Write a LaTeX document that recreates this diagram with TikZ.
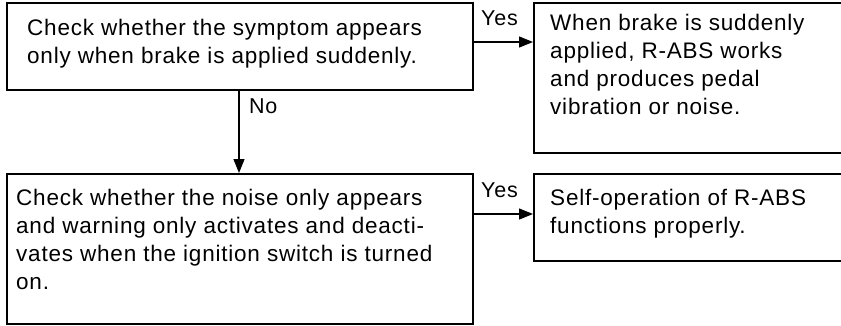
\documentclass[tikz,border=0pt]{standalone}
\usepackage{fontspec}
\setmainfont{Liberation Sans}[LetterSpace=3.5]
\usetikzlibrary{arrows.meta,calc}
\newcommand{\lines}[1]{\begin{tabular}[t]{@{}l@{}}#1\end{tabular}}
\tikzset{
  box/.style={draw, line width=1.7pt, rectangle, inner sep=0pt, anchor=north west},
  txt/.style={anchor=base west, inner sep=0pt, font=\fontsize{22.5}{28}\selectfont},
  lbl/.style={anchor=base west, inner sep=0pt, font=\fontsize{21.5}{26}\selectfont},
  arr/.style={line width=1.3pt, -{Triangle[length=14pt,width=11pt]}}
}
\begin{document}
\begin{tikzpicture}[x=1pt,y=-1pt]
\useasboundingbox (0,0) rectangle (841,325);
\node[box, minimum width=466pt, minimum height=87pt] (b1) at (6,2) {};
\node[box, minimum width=308pt, minimum height=150pt] (b2) at (533,2) {};
\node[box, minimum width=466pt, minimum height=150pt] (b3) at (6,173) {};
\node[box, minimum width=308pt, minimum height=87pt] (b4) at (533,173) {};
\node[txt] (t1) at (27,35) {\lines{Check whether the symptom appears\\only when brake is applied suddenly.}};
\node[txt] (t2) at (550,30) {\lines{When brake is suddenly\\applied, R-ABS works\\and produces pedal\\vibration or noise.}};
\node[txt] (t3) at (16,205) {\lines{Check whether the noise only appears\\and warning only activates and deacti-\\vates when the ignition switch is turned\\on.}};
\node[txt] (t4) at (550,205) {\lines{Self-operation of R-ABS\\functions properly.}};
\coordinate (y1s) at (472,42);
\coordinate (y1e) at (533,42);
\coordinate (y2s) at (472,214);
\coordinate (y2e) at (533,214);
\coordinate (ns) at (239,89);
\coordinate (ne) at (239,173);
\draw[arr] (y1s) -- (y1e);
\draw[arr] (y2s) -- (y2e);
\draw[arr] (ns) -- (ne);
\node[lbl] (l1) at (481,25) {Yes};
\node[lbl] (l2) at (481,197) {Yes};
\node[lbl] (l3) at (249,113) {No};
\end{tikzpicture}
\end{document}
